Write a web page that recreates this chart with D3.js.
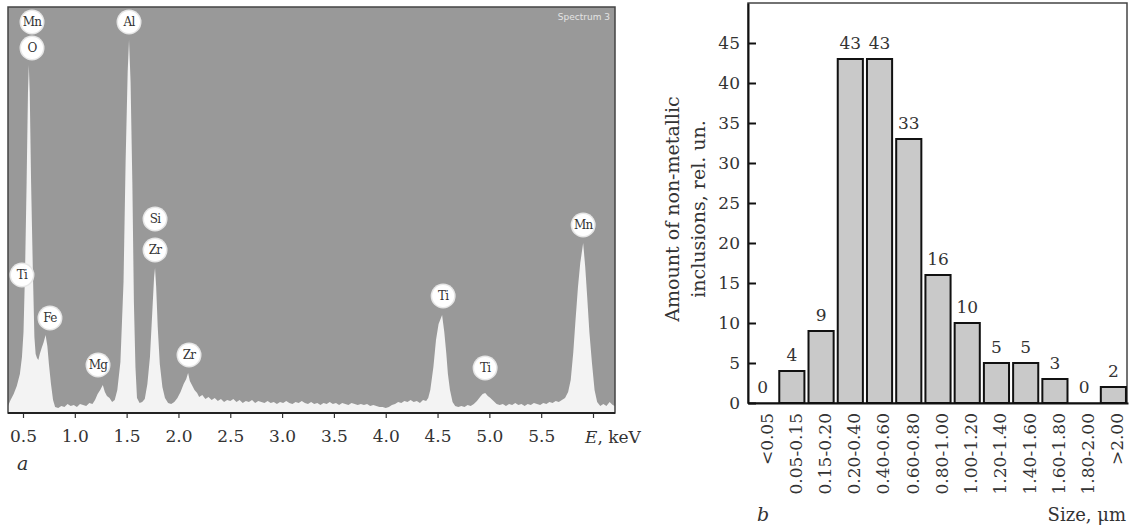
<!DOCTYPE html>
<meta charset="utf-8">
<body style="margin:0;background:#fff">
<script src="https://cdn.jsdelivr.net/npm/d3@7/dist/d3.min.js"></script>
<script>
// (a) EDS spectrum: [energy keV, counts arb. units]
var spectrum = [
  [0.355,6],[0.38,12],[0.41,18],[0.44,26],[0.47,38],[0.49,55],[0.505,80],[0.52,142],
  [0.535,230],[0.548,320],[0.556,347],[0.565,320],[0.578,230],[0.595,142],[0.61,75],
  [0.622,58],[0.635,54],[0.648,52],[0.662,58],[0.68,64],[0.70,70],[0.718,77],[0.735,66],
  [0.75,48],[0.77,28],[0.79,12],[0.81,5],[0.84,4],[0.87,6],[0.90,5],[0.93,8],[0.96,6],
  [0.99,7],[1.02,5],[1.05,8],[1.08,7],[1.11,6],[1.14,9],[1.17,8],[1.195,12],[1.22,18],
  [1.245,22],[1.27,27],[1.29,20],[1.31,16],[1.335,14],[1.36,10],[1.385,12],[1.41,22],
  [1.44,50],[1.47,130],[1.49,250],[1.51,340],[1.523,372],[1.538,330],[1.555,230],
  [1.57,110],[1.585,45],[1.60,14],[1.625,9],[1.65,10],[1.675,13],[1.70,28],[1.725,55],
  [1.75,105],[1.765,135],[1.774,144],[1.785,125],[1.80,85],[1.82,48],[1.845,25],
  [1.87,14],[1.90,9],[1.93,8],[1.96,10],[1.99,14],[2.02,20],[2.05,28],[2.075,33],
  [2.093,39],[2.11,31],[2.13,27],[2.155,22],[2.18,19],[2.20,15],[2.23,17],[2.26,13],
  [2.29,15],[2.32,12],[2.35,14],[2.38,11],[2.41,13],[2.44,10],[2.47,12],[2.50,11],
  [2.53,13],[2.56,10],[2.59,12],[2.62,9],[2.65,11],[2.68,10],[2.71,12],[2.74,9],
  [2.77,11],[2.80,10],[2.83,9],[2.86,11],[2.89,9],[2.92,10],[2.95,8],[2.98,10],
  [3.01,9],[3.04,11],[3.07,9],[3.10,8],[3.13,10],[3.16,9],[3.19,11],[3.22,9],[3.25,8],
  [3.28,10],[3.31,8],[3.34,9],[3.37,7],[3.40,9],[3.43,8],[3.46,10],[3.49,8],[3.52,9],
  [3.55,7],[3.58,9],[3.61,8],[3.64,7],[3.67,9],[3.70,8],[3.73,7],[3.76,8],[3.79,7],
  [3.82,8],[3.85,6],[3.88,7],[3.91,6],[3.94,5],[3.97,5],[4.00,4],[4.03,5],[4.06,7],
  [4.09,8],[4.12,10],[4.15,9],[4.18,11],[4.21,10],[4.24,12],[4.27,10],[4.30,11],
  [4.33,9],[4.36,12],[4.39,11],[4.41,14],[4.43,22],[4.46,45],[4.485,72],[4.51,88],
  [4.544,97],[4.565,80],[4.585,58],[4.60,38],[4.62,22],[4.645,10],[4.67,6],[4.70,5],
  [4.73,6],[4.76,5],[4.79,7],[4.82,6],[4.85,8],[4.88,11],[4.91,15],[4.935,18],[4.96,19],
  [4.985,16],[5.01,14],[5.04,11],[5.07,8],[5.10,7],[5.13,8],[5.16,6],[5.19,8],[5.22,7],
  [5.25,9],[5.28,7],[5.31,8],[5.34,6],[5.37,8],[5.40,7],[5.43,9],[5.46,8],[5.49,7],
  [5.52,9],[5.55,8],[5.58,10],[5.61,9],[5.64,11],[5.67,10],[5.70,12],[5.73,14],
  [5.76,20],[5.785,32],[5.81,60],[5.83,90],[5.855,125],[5.877,149],[5.905,169],
  [5.925,145],[5.944,115],[5.965,80],[5.99,49],[6.015,22],[6.04,10],[6.07,6],[6.10,8],
  [6.13,6],[6.16,10],[6.19,7],[6.21,6]
];

// element markers: name, energy, count level of the marker
var peakLabels = [
  ["Mn",0.587,390],["O",0.587,364],["Al",1.523,390],["Si",1.774,193],["Zr",1.774,162],
  ["Ti",0.49,137],["Fe",0.76,94],["Mg",1.224,47],["Zr",2.102,57],["Ti",4.554,116],
  ["Ti",4.959,44],["Mn",5.905,187]
];

var energyTicks = [0.5,1.0,1.5,2.0,2.5,3.0,3.5,4.0,4.5,5.0,5.5,6.0];

// (b) size distribution
var sizeClasses = ["<0.05","0.05-0.15","0.15-0.20","0.20-0.40","0.40-0.60","0.60-0.80",
  "0.80-1.00","1.00-1.20","1.20-1.40","1.40-1.60","1.60-1.80","1.80-2.00",">2.00"];
var inclusionCounts = [0,4,9,43,43,33,16,10,5,5,3,0,2];
var countTicks = [0,5,10,15,20,25,30,35,40,45];

var serif = "DejaVu Serif";

var svg = d3.select("body").append("svg")
    .attr("width", 1133)
    .attr("height", 527)
    .style("background", "#fff");

// ---------- panel a ----------
var pa = {left: 8, top: 7, right: 615, bottom: 413};
var xE = d3.scaleLinear().domain([0.5, 6.0]).range([23, 593]);
var yC = d3.scaleLinear().domain([0, 400]).range([412, 12]);

svg.append("defs").append("clipPath").attr("id", "clipA")
  .append("rect")
    .attr("x", pa.left).attr("y", pa.top)
    .attr("width", pa.right - pa.left).attr("height", pa.bottom - pa.top);

svg.append("rect")
    .attr("x", pa.left).attr("y", pa.top)
    .attr("width", pa.right - pa.left).attr("height", pa.bottom - pa.top)
    .attr("fill", "#999");

var area = d3.area()
    .x(function(d){ return xE(d[0]); })
    .y0(yC(0) + 2)
    .y1(function(d){ return yC(d[1]); });

svg.append("path")
    .datum(spectrum)
    .attr("clip-path", "url(#clipA)")
    .attr("fill", "#f3f3f3")
    .attr("d", area);

svg.append("rect")
    .attr("x", pa.left).attr("y", pa.top)
    .attr("width", pa.right - pa.left).attr("height", pa.bottom - pa.top)
    .attr("fill", "none").attr("stroke", "#444").attr("stroke-width", 1.5);

svg.append("text")
    .attr("x", 610).attr("y", 20)
    .attr("text-anchor", "end")
    .attr("font-family", "DejaVu Sans").attr("font-size", 9)
    .attr("fill", "#e4e4e4")
    .text("Spectrum 3");

var lab = svg.append("g").selectAll("g")
    .data(peakLabels).enter().append("g")
    .attr("transform", function(d){ return "translate(" + xE(d[1]) + "," + yC(d[2]) + ")"; });
lab.append("circle").attr("r", 12.5).attr("fill", "#e6e6e6");
lab.append("circle").attr("r", 11).attr("fill", "#fff");
lab.append("text")
    .attr("text-anchor", "middle").attr("dy", "0.36em")
    .attr("font-family", serif).attr("font-size", 12)
    .attr("fill", "#333")
    .attr("letter-spacing", -0.8)
    .text(function(d){ return d[0]; });

var axA = svg.append("g")
    .attr("transform", "translate(0," + pa.bottom + ")")
    .call(d3.axisBottom(xE).tickValues(energyTicks).tickSize(5).tickPadding(12)
      .tickFormat(function(d){ return d === 6 ? "" : d3.format(".1f")(d); }));
axA.select(".domain").remove();
axA.selectAll("line").attr("stroke", "#333").attr("stroke-width", 1.2);
axA.selectAll("text").attr("font-family", serif).attr("font-size", 17).attr("fill", "#333");

svg.append("line")
    .attr("x1", pa.left).attr("x2", pa.right)
    .attr("y1", pa.bottom).attr("y2", pa.bottom)
    .attr("stroke", "#222").attr("stroke-width", 2);

var eLab = svg.append("text")
    .attr("x", 585).attr("y", 443)
    .attr("font-family", serif).attr("font-size", 17).attr("fill", "#333");
eLab.append("tspan").attr("font-style", "italic").text("E");
eLab.append("tspan").text(", keV");

svg.append("text")
    .attr("x", 17).attr("y", 470)
    .attr("font-family", serif).attr("font-style", "italic")
    .attr("font-size", 19).attr("fill", "#333")
    .text("a");

// ---------- panel b ----------
var pb = {left: 748, top: 3, right: 1127, bottom: 403};
var xS = d3.scaleBand().domain(sizeClasses).range([pb.left, pb.right + 1])
    .paddingInner(0.14).paddingOuter(0.07);
var yN = d3.scaleLinear().domain([0, 50]).range([pb.bottom, pb.top]);

svg.append("rect")
    .attr("x", pb.left).attr("y", pb.top)
    .attr("width", pb.right - pb.left).attr("height", pb.bottom - pb.top)
    .attr("fill", "none").attr("stroke", "#444").attr("stroke-width", 1.5);

svg.append("g").selectAll("rect")
    .data(inclusionCounts).enter().append("rect")
    .attr("x", function(d, i){ return xS(sizeClasses[i]); })
    .attr("y", function(d){ return yN(d); })
    .attr("width", xS.bandwidth())
    .attr("height", function(d){ return yN(0) - yN(d); })
    .attr("fill", "#c9c9c9")
    .attr("stroke", "#111").attr("stroke-width", 2);

svg.append("g").selectAll("text")
    .data(inclusionCounts).enter().append("text")
    .attr("x", function(d, i){ return xS(sizeClasses[i]) + xS.bandwidth() / 2; })
    .attr("y", function(d){ return yN(d) - 10; })
    .attr("text-anchor", "middle")
    .attr("font-family", serif).attr("font-size", 17).attr("fill", "#333")
    .text(function(d){ return d; });

var axY = svg.append("g")
    .attr("transform", "translate(" + pb.left + ",0)")
    .call(d3.axisLeft(yN).tickValues(countTicks).tickSize(-8).tickSizeOuter(0).tickPadding(8));
axY.select(".domain").attr("stroke", "#111").attr("stroke-width", 2);
axY.selectAll("line").attr("stroke", "#111").attr("stroke-width", 2);
axY.selectAll("text").attr("font-family", serif).attr("font-size", 17).attr("fill", "#333");

var axX = svg.append("g")
    .attr("transform", "translate(0," + pb.bottom + ")")
    .call(d3.axisBottom(xS).tickSize(0).tickSizeOuter(0));
axX.select(".domain").attr("stroke", "#111").attr("stroke-width", 2);
axX.selectAll("text")
    .attr("transform", "rotate(-90)")
    .attr("text-anchor", "end")
    .attr("x", -10).attr("y", 4).attr("dy", "0.35em")
    .attr("font-family", serif).attr("font-size", 17).attr("fill", "#333");

var yTitle = svg.append("text")
    .attr("transform", "translate(679,209) rotate(-90)")
    .attr("text-anchor", "middle")
    .attr("font-family", serif).attr("font-size", 19).attr("fill", "#333");
yTitle.append("tspan").attr("x", 0).attr("y", 0).text("Amount of non-metallic");
yTitle.append("tspan").attr("x", 0).attr("y", 26).text("inclusions, rel. un.");

svg.append("text")
    .attr("x", 757).attr("y", 521)
    .attr("font-family", serif).attr("font-style", "italic")
    .attr("font-size", 19).attr("fill", "#333")
    .text("b");

svg.append("text")
    .attr("x", 1126).attr("y", 521)
    .attr("text-anchor", "end")
    .attr("font-family", serif).attr("font-size", 18).attr("fill", "#333")
    .text("Size, \u03bcm");
</script>
</body>
